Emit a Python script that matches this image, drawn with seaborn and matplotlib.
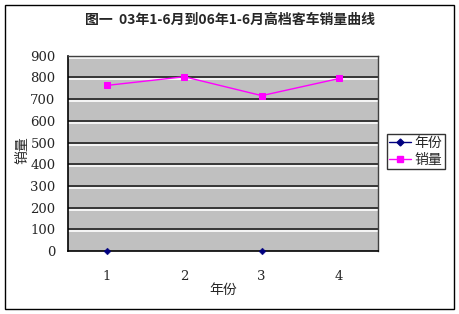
import numpy as np
import pandas as pd
import matplotlib
matplotlib.use("Agg")
import matplotlib.pyplot as plt
import matplotlib.patheffects as pe
from matplotlib.lines import Line2D
from matplotlib.patches import Rectangle
import seaborn as sns

categories = [1, 2, 3, 4]
sales = [763, 803, 716, 795]
years = [0, np.nan, 0, np.nan]
yticks = [0, 100, 200, 300, 400, 500, 600, 700, 800, 900]
title = "图一  03年1-6月到06年1-6月高档客车销量曲线"

sns.set_theme(style="white")
plt.rcParams['font.family'] = ['Noto Sans CJK SC', 'DejaVu Sans']

df = pd.DataFrame({"x": categories, "销量": sales, "年份": years})

fig = plt.figure(figsize=(4.6, 3.14), dpi=100)
fig.patch.set_facecolor("white")
ax = fig.add_axes([68/460, 1-251/314, 310/460, (251-55.7)/314])
ax.set_facecolor("#C0C0C0")

# gridlines with white shadow
for v in yticks[1:]:
    ax.axhline(v, color="#202020", lw=1.2, zorder=1,
               path_effects=[pe.SimpleLineShadow(offset=(0, -1.5), shadow_color="white", alpha=1.0, rho=1.0),
                             pe.Normal()])

sns.lineplot(data=df, x="x", y="销量", ax=ax, color="#FF00FF", lw=1.0,
             marker="s", markersize=5, markeredgecolor="#FF00FF", zorder=3, legend=False)
d2 = df.dropna(subset=["年份"])
sns.scatterplot(data=d2, x="x", y="年份", ax=ax, color="#000080", marker="D", s=12,
                edgecolor="#000080", zorder=4, legend=False, clip_on=False)

ax.set_xlim(0.5, 4.5)
ax.set_ylim(0, 900)
ax.set_yticks(yticks)
ax.set_xticks(categories)
ax.set_xticks([1.5, 2.5, 3.5], minor=True)
ax.tick_params(axis="x", which="major", length=0, pad=14, labelsize=9.5)
ax.tick_params(axis="x", which="minor", length=4, direction="in", width=1, color="black")
ax.tick_params(axis="y", length=0, pad=9, labelsize=9.5)
for lab in ax.get_xticklabels() + ax.get_yticklabels():
    lab.set_fontfamily(['DejaVu Serif'])
for s in ["left", "bottom"]:
    ax.spines[s].set_color("black")
    ax.spines[s].set_linewidth(1.2)
for s in ["top", "right"]:
    ax.spines[s].set_color("#404040")
    ax.spines[s].set_linewidth(1.0)

ax.set_xlabel("")
ax.set_ylabel("")
fig.text(223/460, 1-290/314, "年份", ha="center", va="center", fontsize=10)
fig.text(22/460, 1-150/314, "销量", ha="center", va="center", fontsize=10, rotation=90)
fig.text(0.5, 1-20/314, title, ha="center", va="center", fontsize=10, fontweight="bold")

handles = [Line2D([0], [0], color="#000080", marker="D", markersize=3.5, lw=1.0),
           Line2D([0], [0], color="#FF00FF", marker="s", markersize=4.5, lw=1.0)]
leg = fig.legend(handles, ["年份", "销量"], loc="upper left",
                 bbox_to_anchor=(387/460, 1-134/314), fontsize=10, frameon=True,
                 fancybox=False, handlelength=1.6, handletextpad=0.25, borderpad=0.15,
                 labelspacing=0.2, borderaxespad=0)
leg.get_frame().set_edgecolor("black")
leg.get_frame().set_linewidth(1.0)

fig.patches.append(Rectangle((4.5/460, 1-309/314), 450/460, 304/314, transform=fig.transFigure,
                             fill=False, edgecolor="black", lw=1.0))

fig.savefig("out.png", dpi=100)
